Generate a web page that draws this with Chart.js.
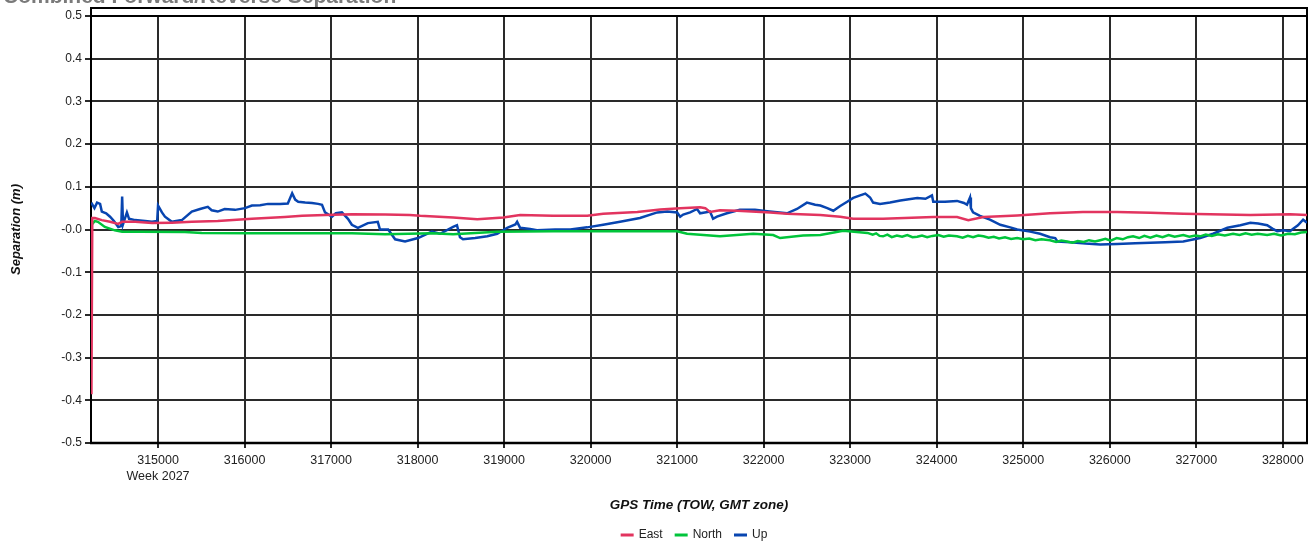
<!DOCTYPE html>
<html>
<head>
<meta charset="utf-8">
<script src="https://cdn.jsdelivr.net/npm/chart.js@4/dist/chart.umd.min.js"></script>
<style>
html,body{margin:0;padding:0;background:#fff;}
canvas{display:block;}
</style>
</head>
<body>
<canvas id="c" width="1309" height="542"></canvas>
<script>
// ---- data (time of week [s], separation [m]) ----
const chartTitle = 'Combined Forward/Reverse Separation';
const seriesNames = ['East', 'North', 'Up'];
const seriesColors = ['#e2345f', '#00c43a', '#0845b0'];
const xTickValues = [315000,316000,317000,318000,319000,320000,321000,322000,323000,324000,325000,326000,327000,328000];
const xFirstTickSub = 'Week 2027';
const yTickValues = [-0.5,-0.4,-0.3,-0.2,-0.1,0,0.1,0.2,0.3,0.4,0.5];
const yTickLabels = ['-0.5','-0.4','-0.3','-0.2','-0.1','-0.0','0.1','0.2','0.3','0.4','0.5'];
const xMin = 314225, xMax = 328280;

const eastData = [[314230,-0.386],[314240,0.027],[314270,0.027],[314350,0.022],[314445,0.018],[314540,0.013],[314585,0.018],[314735,0.018],[314930,0.015],[315160,0.016],[315390,0.018],[315690,0.02],[316085,0.025],[316465,0.029],[316665,0.032],[316930,0.034],[317240,0.036],[317625,0.035],[317910,0.034],[318030,0.032],[318410,0.028],[318690,0.024],[318990,0.028],[319185,0.034],[319565,0.032],[319960,0.032],[320145,0.037],[320540,0.041],[320805,0.047],[321035,0.05],[321265,0.052],[321325,0.05],[321380,0.041],[321495,0.045],[321695,0.044],[322075,0.04],[322270,0.037],[322655,0.034],[322885,0.03],[323035,0.025],[323380,0.025],[323960,0.029],[324235,0.029],[324365,0.022],[324540,0.029],[324930,0.033],[325310,0.038],[325690,0.041],[326085,0.041],[326470,0.039],[326850,0.037],[327625,0.034],[328085,0.036],[328280,0.034]];

const northData = [[314228,0.01],[314270,0.02],[314305,0.018],[314385,0.006],[314500,-0.002],[314585,-0.005],[314790,-0.005],[315310,-0.006],[315505,-0.008],[316085,-0.009],[316665,-0.009],[317240,-0.009],[317625,-0.011],[318165,-0.009],[318410,-0.011],[318920,-0.005],[319565,-0.004],[321000,-0.004],[321115,-0.01],[321495,-0.016],[321880,-0.01],[322110,-0.013],[322190,-0.02],[322455,-0.014],[322655,-0.013],[322920,-0.003],[323200,-0.008],[323260,-0.012],[323300,-0.009],[323340,-0.015],[323380,-0.016],[323430,-0.012],[323480,-0.018],[323540,-0.014],[323600,-0.017],[323660,-0.013],[323720,-0.018],[323775,-0.017],[323830,-0.014],[323890,-0.018],[323950,-0.015],[324020,-0.013],[324080,-0.017],[324140,-0.014],[324235,-0.016],[324300,-0.019],[324360,-0.015],[324420,-0.018],[324480,-0.014],[324540,-0.016],[324600,-0.019],[324660,-0.017],[324720,-0.021],[324790,-0.018],[324860,-0.022],[324930,-0.02],[325000,-0.023],[325070,-0.021],[325140,-0.025],[325210,-0.023],[325310,-0.025],[325380,-0.029],[325440,-0.026],[325505,-0.028],[325570,-0.031],[325630,-0.027],[325700,-0.029],[325760,-0.025],[325830,-0.028],[325890,-0.025],[325950,-0.022],[326010,-0.026],[326080,-0.02],[326150,-0.023],[326210,-0.018],[326270,-0.016],[326340,-0.02],[326400,-0.015],[326470,-0.019],[326540,-0.014],[326610,-0.018],[326680,-0.013],[326750,-0.017],[326850,-0.013],[326920,-0.017],[326990,-0.014],[327045,-0.016],[327110,-0.012],[327180,-0.015],[327250,-0.011],[327330,-0.014],[327425,-0.01],[327500,-0.013],[327570,-0.009],[327640,-0.012],[327710,-0.01],[327820,-0.013],[327900,-0.01],[327980,-0.014],[328060,-0.01],[328140,-0.011],[328210,-0.007],[328280,-0.006]];

const upData = [[314228,0.063],[314265,0.05],[314295,0.063],[314330,0.06],[314350,0.042],[314400,0.038],[314445,0.03],[314490,0.02],[314540,0.006],[314575,0.008],[314585,0.077],[314595,0.012],[314640,0.04],[314665,0.025],[314735,0.022],[314850,0.02],[314930,0.018],[314990,0.02],[315000,0.056],[315045,0.04],[315080,0.03],[315160,0.018],[315275,0.022],[315390,0.042],[315485,0.048],[315575,0.053],[315620,0.045],[315690,0.042],[315770,0.048],[315890,0.046],[316005,0.05],[316085,0.056],[316180,0.057],[316270,0.06],[316410,0.06],[316500,0.061],[316550,0.085],[316585,0.07],[316620,0.065],[316700,0.063],[316780,0.062],[316850,0.06],[316895,0.058],[316930,0.04],[317010,0.03],[317055,0.038],[317125,0.04],[317195,0.025],[317240,0.011],[317310,0.004],[317425,0.015],[317540,0.018],[317565,0.0],[317660,0.0],[317740,-0.023],[317855,-0.028],[318005,-0.02],[318165,-0.005],[318260,-0.01],[318410,0.006],[318455,0.01],[318490,-0.018],[318525,-0.023],[318665,-0.02],[318805,-0.016],[318920,-0.01],[319035,0.004],[319130,0.012],[319150,0.018],[319185,0.004],[319300,0.001],[319380,-0.002],[319590,0.0],[319765,0.0],[319960,0.005],[320145,0.011],[320340,0.018],[320570,0.027],[320770,0.04],[320885,0.042],[321000,0.04],[321035,0.03],[321070,0.035],[321150,0.04],[321230,0.048],[321265,0.038],[321380,0.042],[321415,0.025],[321460,0.03],[321575,0.038],[321725,0.046],[321900,0.046],[322040,0.043],[322270,0.038],[322385,0.048],[322500,0.063],[322595,0.058],[322655,0.056],[322735,0.05],[322805,0.044],[322885,0.055],[322965,0.065],[323035,0.074],[323115,0.08],[323175,0.084],[323230,0.075],[323265,0.063],[323345,0.06],[323460,0.063],[323580,0.068],[323775,0.074],[323870,0.072],[323945,0.08],[323960,0.065],[324095,0.065],[324235,0.067],[324315,0.062],[324350,0.058],[324385,0.075],[324395,0.05],[324420,0.04],[324500,0.032],[324615,0.023],[324735,0.011],[324850,0.005],[324930,0.0],[325080,-0.005],[325195,-0.01],[325310,-0.018],[325370,-0.02],[325395,-0.028],[325545,-0.03],[325720,-0.033],[325890,-0.035],[326085,-0.034],[326295,-0.032],[326470,-0.031],[326640,-0.03],[326850,-0.028],[327045,-0.02],[327195,-0.01],[327360,0.004],[327510,0.01],[327625,0.016],[327715,0.014],[327820,0.01],[327880,0.002],[327935,-0.004],[328005,-0.002],[328085,-0.004],[328120,0.002],[328175,0.01],[328235,0.023],[328280,0.016]];

const seriesData = [eastData, northData, upData];

Chart.defaults.font.family = '"Liberation Sans", Arial, sans-serif';
Chart.defaults.font.size = 12;
Chart.defaults.color = '#222';

const FONT = '"Liberation Sans", Arial, sans-serif';

const framePlugin = {
  id: 'frame',
  beforeDatasetsDraw(chart) {
    const {ctx, chartArea: a} = chart;
    ctx.save();
    ctx.strokeStyle = '#000';
    ctx.lineWidth = 2;
    ctx.strokeRect(a.left, a.top - 8, a.right - a.left, a.bottom - a.top + 8);
    ctx.beginPath();
    ctx.moveTo(a.left, a.top); ctx.lineTo(a.right, a.top);
    ctx.stroke();
    ctx.lineWidth = 2.5;
    ctx.beginPath();
    ctx.moveTo(a.left - 1, a.bottom); ctx.lineTo(a.right + 1, a.bottom);
    ctx.stroke();
    ctx.restore();
  },
  afterDraw(chart) {
    const {ctx, chartArea: a} = chart;
    ctx.save();
    // cropped chart title
    ctx.fillStyle = '#7a7a7a';
    ctx.font = 'bold 21px ' + FONT;
    ctx.textBaseline = 'alphabetic';
    ctx.textAlign = 'left';
    ctx.fillText(chartTitle, 3, 3);
    // axis titles
    ctx.fillStyle = '#111';
    ctx.font = 'italic bold 13.5px ' + FONT;
    ctx.textAlign = 'center';
    ctx.textBaseline = 'middle';
    ctx.fillText('GPS Time (TOW, GMT zone)', (a.left + a.right) / 2, 505);
    ctx.font = 'italic bold 13px ' + FONT;
    ctx.save();
    ctx.translate(16, (a.top + a.bottom) / 2);
    ctx.rotate(-Math.PI / 2);
    ctx.fillText('Separation (m)', 0, 0);
    ctx.restore();
    // legend
    ctx.font = '12px ' + FONT;
    ctx.textAlign = 'left';
    const lineW = 13, gap = 5, itemGap = 12;
    const widths = seriesNames.map(n => lineW + gap + ctx.measureText(n).width);
    const total = widths.reduce((s, w) => s + w, 0) + itemGap * (widths.length - 1);
    let x = 694 - total / 2;
    const y = 535;
    seriesNames.forEach((n, i) => {
      ctx.strokeStyle = seriesColors[i];
      ctx.lineWidth = 3;
      ctx.beginPath();
      ctx.moveTo(x, y); ctx.lineTo(x + lineW, y);
      ctx.stroke();
      ctx.fillStyle = '#222';
      ctx.fillText(n, x + lineW + gap, y);
      x += widths[i] + itemGap;
    });
    ctx.restore();
  }
};

new Chart(document.getElementById('c'), {
  type: 'line',
  data: {
    datasets: seriesNames.map((n, i) => ({
      label: n,
      data: seriesData[i].map(p => ({x: p[0], y: p[1]})),
      borderColor: seriesColors[i],
      backgroundColor: seriesColors[i],
      borderWidth: 2.5,
      pointRadius: 0,
      tension: 0,
      fill: false
    }))
  },
  options: {
    responsive: false,
    animation: false,
    devicePixelRatio: 1,
    layout: {padding: {left: 0, right: 2, top: 16, bottom: 42}},
    plugins: {legend: {display: false}, tooltip: {enabled: false}, title: {display: false}},
    scales: {
      x: {
        type: 'linear',
        min: xMin, max: xMax,
        afterBuildTicks(s) { s.ticks = xTickValues.map(v => ({value: v})); },
        afterFit(s) { s.height = 57; },
        ticks: {
          autoSkip: false, maxRotation: 0, padding: 4,
          font: {size: 12.5, lineHeight: 1.3},
          color: '#222',
          callback(v, i) { return i === 0 ? [String(v), xFirstTickSub] : String(v); }
        },
        grid: {color: '#2a2a2a', lineWidth: 2, tickLength: 5, drawTicks: true},
        border: {display: false}
      },
      y: {
        type: 'linear',
        min: -0.5, max: 0.5,
        afterBuildTicks(s) { s.ticks = yTickValues.map(v => ({value: v})); },
        afterFit(s) { s.width = 91; },
        ticks: {
          autoSkip: false, padding: 3, color: '#222',
          font: {size: 12},
          callback(v, i) { return yTickLabels[i]; }
        },
        grid: {color: '#2a2a2a', lineWidth: 2, tickLength: 6, drawTicks: true},
        border: {display: false}
      }
    }
  },
  plugins: [framePlugin]
});
</script>
</body>
</html>
